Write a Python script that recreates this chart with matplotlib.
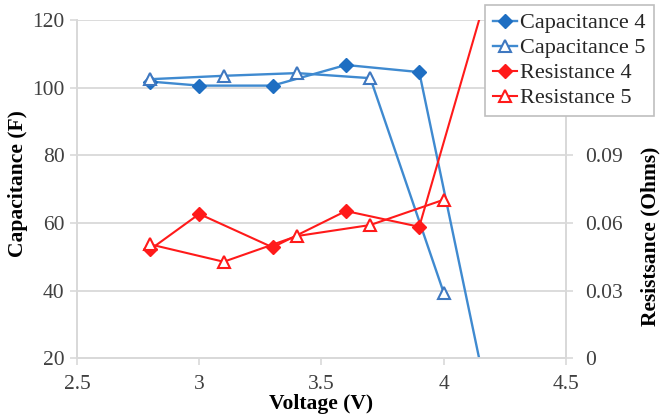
import matplotlib
matplotlib.use("Agg")
import matplotlib.pyplot as plt
from matplotlib.ticker import FixedLocator, FuncFormatter

# ---- data ----
voltage_4 = [2.8, 3.0, 3.3, 3.6, 3.9, 4.2]
capacitance_4 = [101.8, 100.6, 100.6, 106.7, 104.6, 1.0]
resistance_4 = [0.0483, 0.0640, 0.0492, 0.0653, 0.0583, 0.1706]

voltage_5 = [2.8, 3.1, 3.4, 3.7, 4.0]
capacitance_5 = [102.5, 103.5, 104.3, 102.8, 39.4]
resistance_5 = [0.0505, 0.0428, 0.0542, 0.0591, 0.0703]

x_ticks = [2.5, 3.0, 3.5, 4.0, 4.5]
left_ticks = [20, 40, 60, 80, 100, 120]
right_ticks = [0, 0.03, 0.06, 0.09, 0.12, 0.15]
# labels of 0.12 / 0.15 lie under the legend in the original
right_labels = ['0', '0.03', '0.06', '0.09', '', '']

plt.rcParams['font.family'] = 'serif'
plt.rcParams['font.serif'] = ['Liberation Serif', 'DejaVu Serif']

BLUE_LINE = '#3F8AD0'
BLUE_MARK = '#1E6EC2'
BLUE_TRI = '#3F78C0'
RED = '#FF1A1A'
GRID = '#D9D9D9'
TICKCOL = '#404040'

fig = plt.figure(figsize=(6.65, 4.19), dpi=100)
ax = fig.add_axes([0.1158, 0.1449, 0.7352, 0.8074])
ax2 = ax.twinx()

ax.set_xlim(2.5, 4.5)
ax.set_ylim(20, 120)
ax2.set_ylim(0, 0.15)

l1, = ax.plot(voltage_4, capacitance_4, color=BLUE_LINE, lw=1.7, marker='D',
              ms=7.3, mfc=BLUE_MARK, mec=BLUE_MARK, label='Capacitance 4', zorder=3)
l2, = ax.plot(voltage_5, capacitance_5, color=BLUE_LINE, lw=1.7, marker='^',
              ms=8.5, mfc='white', mec=BLUE_TRI, mew=1.5, label='Capacitance 5', zorder=3)
l3, = ax2.plot(voltage_4, resistance_4, color=RED, lw=1.5, marker='D',
               ms=7.3, mfc=RED, mec=RED, label='Resistance 4', zorder=3)
l4, = ax2.plot(voltage_5, resistance_5, color=RED, lw=1.5, marker='^',
               ms=8.5, mfc='white', mec=RED, mew=1.5, label='Resistance 5', zorder=3)

ax.yaxis.set_major_locator(FixedLocator(left_ticks))
ax.xaxis.set_major_locator(FixedLocator(x_ticks))
ax2.set_yticks(right_ticks)
ax2.set_yticklabels(right_labels)
ax.xaxis.set_major_formatter(FuncFormatter(lambda v, p: f'{v:g}'))

ax.grid(axis='y', color=GRID, lw=1.3)
ax.set_axisbelow(True)

for a in (ax, ax2):
    for s in a.spines.values():
        s.set_color(GRID)
        s.set_linewidth(1.3)
    a.spines['top'].set_visible(False)

ax.tick_params(axis='both', colors=GRID, labelcolor=TICKCOL, labelsize=15.5,
               length=5, width=1.2)
ax.tick_params(axis='x', pad=7)
ax.tick_params(axis='y', pad=4)
ax2.tick_params(axis='y', colors=GRID, labelcolor=TICKCOL, labelsize=15.5,
                length=5, width=1.2, pad=9)

ax.set_xlabel('Voltage (V)', fontsize=15.5, fontweight='bold', labelpad=0)
ax.set_ylabel('Capacitance (F)', fontsize=15.5, fontweight='bold')
ax.yaxis.set_label_coords(-0.100, 0.515)
ax2.set_ylabel('Resistsance (Ohms)', fontsize=15.5, fontweight='bold')
ax2.yaxis.set_label_coords(1.152, 0.36)

leg = fig.legend(handles=[l1, l2, l3, l4], loc='upper left',
                 bbox_to_anchor=(0.729, 0.988), bbox_transform=fig.transFigure,
                 fontsize=16, frameon=True, fancybox=False, framealpha=1,
                 edgecolor='#BFBFBF', handlelength=1.1, handletextpad=0.15,
                 labelspacing=0.2, borderpad=0.35, borderaxespad=0)
leg.get_frame().set_linewidth(1.2)
for t in leg.get_texts():
    t.set_color('#262626')

fig.savefig('out.png', dpi=100)
